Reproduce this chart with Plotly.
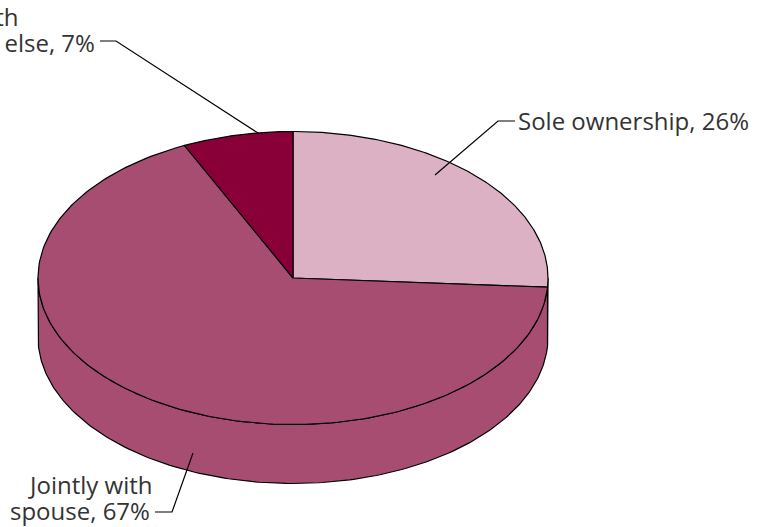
import numpy as np
import plotly.graph_objects as go

# Home ownership shares
categories = ["Sole ownership", "Jointly with spouse", "Jointly with someone else"]
shares = [26, 67, 7]
colors = ["#DBB1C3", "#A84D72", "#890038"]

W, H = 767, 527
cx, cy = 293, 278        # centre of the top face
rx, ry = 255, 146.5      # ellipse radii of the top face
depth = 59               # thickness of the disc


def arc(a1, a2, dy=0.0, n=200):
    t = np.radians(np.linspace(a1, a2, n))
    return cx + rx * np.sin(t), cy - ry * np.cos(t) + dy


fig = go.Figure()

# slice angle ranges, clockwise from 12 o'clock
bounds = np.concatenate([[0], np.cumsum(shares)]) / sum(shares) * 360.0
spans = list(zip(bounds[:-1], bounds[1:]))

# front walls (visible between 90 and 270 degrees)
for (a1, a2), col in zip(spans, colors):
    lo, hi = max(a1, 90), min(a2, 270)
    if hi <= lo:
        continue
    xt, yt = arc(lo, hi)
    xb, yb = arc(hi, lo, depth)
    fig.add_trace(go.Scatter(
        x=np.concatenate([xt, xb, xt[:1]]), y=np.concatenate([yt, yb, yt[:1]]),
        mode="lines", fill="toself", fillcolor=col,
        line=dict(color="black", width=1.2), hoverinfo="skip", showlegend=False))

# top faces
for (a1, a2), col, name in zip(spans, colors, categories):
    xa, ya = arc(a1, a2)
    fig.add_trace(go.Scatter(
        x=np.concatenate([[cx], xa, [cx]]), y=np.concatenate([[cy], ya, [cy]]),
        mode="lines", fill="toself", fillcolor=col, name=name,
        line=dict(color="black", width=1.2), hoverinfo="name", showlegend=False))

# leader lines
leaders = [
    ([435, 498, 515], [175, 121, 121]),
    ([193, 172, 155], [453, 512, 512]),
    ([258, 116, 100], [133, 41, 41]),
]
for lx, ly in leaders:
    fig.add_trace(go.Scatter(x=lx, y=ly, mode="lines",
                             line=dict(color="black", width=1.2),
                             hoverinfo="skip", showlegend=False))

font = dict(family="Open Sans", size=24, color="#333333")
labels = [
    (f"{categories[0]}, {shares[0]}%", 516, 120, "left"),
    ("Jointly with", 154, 484, "right"),
    (f"spouse, {shares[1]}%", 152, 510, "right"),
    ("Jointly with", 20, 16, "right"),
    (f"someone else, {shares[2]}%", 97, 42, "right"),
]
for text, x, y, anchor in labels:
    fig.add_annotation(x=x, y=y, xref="x", yref="y", text=text, showarrow=False,
                       xanchor=anchor, yanchor="middle", font=font)

fig.update_xaxes(range=[0, W], visible=False, fixedrange=True)
fig.update_yaxes(range=[H, 0], visible=False, fixedrange=True)
fig.update_layout(width=W, height=H, margin=dict(l=0, r=0, t=0, b=0),
                  paper_bgcolor="white", plot_bgcolor="white")

fig.write_html("out.html")
